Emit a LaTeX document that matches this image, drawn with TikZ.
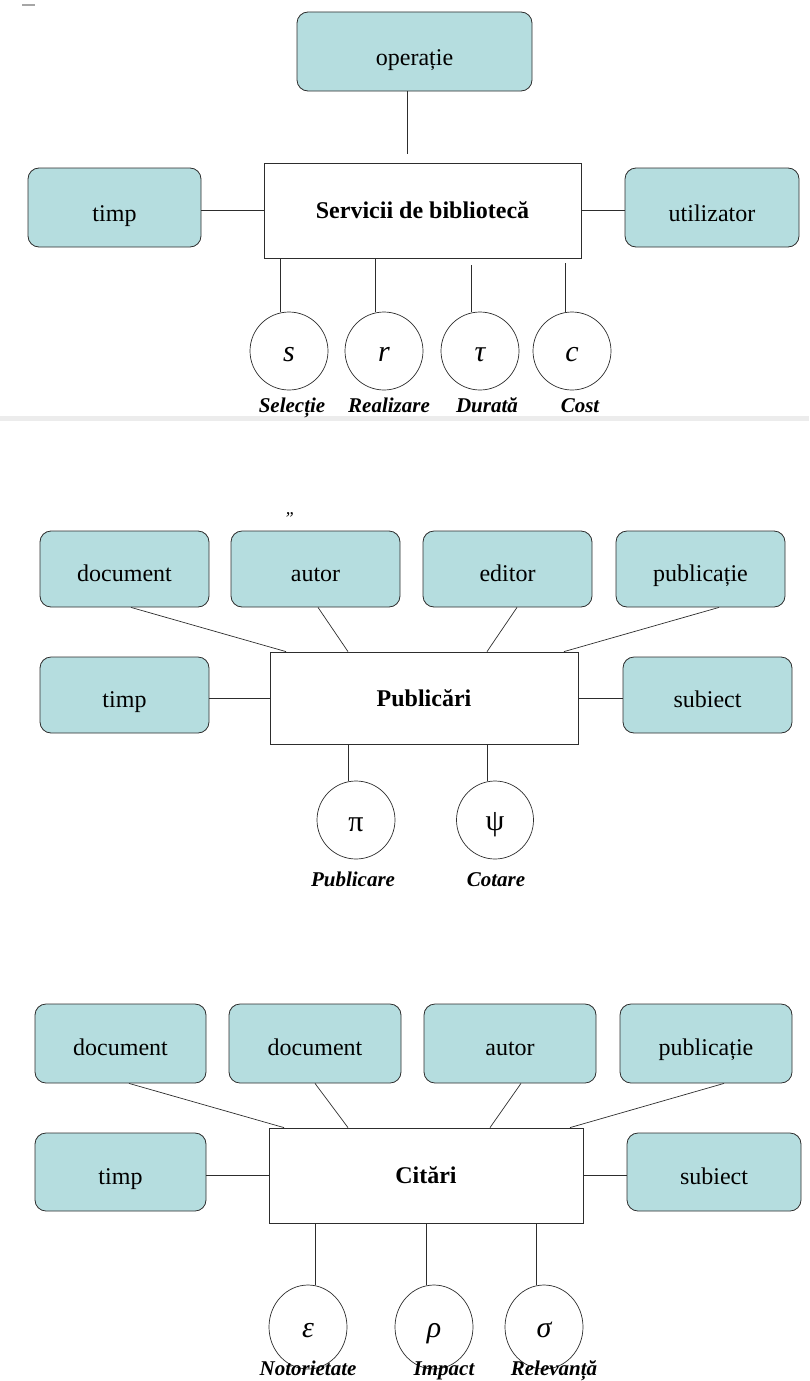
\documentclass[tikz,border=0pt]{standalone}
\usepackage{fontspec}
\setmainfont{Liberation Serif}
\usetikzlibrary{shapes.geometric}
\definecolor{boxfill}{RGB}{181,221,223}
\definecolor{edge}{RGB}{45,45,45}
\tikzset{
  rbox/.style={draw=edge, line width=0.8pt, fill=boxfill, rounded corners=11pt, inner sep=0pt, text height=30pt, text depth=6pt, font=\fontsize{24}{26}\selectfont},
  lowtext/.style={text height=34pt},
  mainbox/.style={draw=edge, line width=0.8pt, fill=white, inner sep=0pt, font=\fontsize{24}{26}\selectfont\bfseries},
  attr/.style={draw=edge, line width=0.7pt, fill=white, ellipse, inner sep=0pt, text height=28pt, text depth=8pt, font=\fontsize{30}{32}\selectfont},
  lbl/.style={inner sep=0pt, text height=15pt, text depth=5pt, font=\fontsize{21}{23}\selectfont\bfseries\itshape},
  conn/.style={draw=edge, line width=0.7pt}
}
\begin{document}
\begin{tikzpicture}[x=1pt,y=-1pt]
\useasboundingbox (0,0) rectangle (809,1381);
% artifacts
\fill[gray!15] (0,416) rectangle (809,421);
\draw[gray!70, line width=1.2pt] (22,5) -- (35,5);

% ---------- Section 1 ----------
\node[rbox, lowtext, minimum width=235pt, minimum height=79pt] (op) at (414.5,51.5) {operație};
\node[mainbox, minimum width=317pt, minimum height=95pt] (main1) at (422.5,210.5) {Servicii de bibliotecă};
\node[rbox, lowtext, minimum width=173pt, minimum height=79pt] (timp1) at (114.5,207.5) {timp};
\node[rbox, lowtext, minimum width=174pt, minimum height=79pt] (util1) at (712,207.5) {utilizator};
\draw[conn] (op.south -| 407,0) -- (407,154);
\draw[conn] (timp1.east |- main1) -- (main1.west);
\draw[conn] (main1.east) -- (util1.west |- main1);

\node[attr, minimum width=78pt, minimum height=78pt] (cs) at (289,351) {\itshape s};
\node[attr, minimum width=78pt, minimum height=78pt] (cr) at (384,351) {\itshape r};
\node[attr, minimum width=78pt, minimum height=78pt] (ct) at (480,351) {\itshape τ};
\node[attr, minimum width=78pt, minimum height=78pt] (cc) at (572,351) {\itshape c};
\draw[conn] (main1.south -| 280,0) -- (cs.north -| 280,0);
\draw[conn] (main1.south -| 375,0) -- (cr.north -| 375,0);
\draw[conn] (471,265) -- (ct.north -| 471,0);
\draw[conn] (565,263) -- (cc.north -| 565,0);
\node[lbl] (ls) at (292,407) {Selecție};
\node[lbl] (lr) at (389,407) {Realizare};
\node[lbl] (lt) at (487,407) {Durată};
\node[lbl] (lc) at (580,407) {Cost};

% ---------- Section 2 ----------
\node[inner sep=0pt, font=\fontsize{18}{18}\selectfont\itshape] (stray) at (289,519) {”};
\node[rbox, minimum width=169pt, minimum height=76pt] (doc2) at (124.5,569) {document};
\node[rbox, minimum width=169pt, minimum height=76pt] (aut2) at (315.5,569) {autor};
\node[rbox, minimum width=169pt, minimum height=76pt] (edi2) at (507.5,569) {editor};
\node[rbox, minimum width=169pt, minimum height=76pt] (pub2) at (700.5,569) {publicație};
\node[rbox, minimum width=169pt, minimum height=76pt] (timp2) at (124.5,695) {timp};
\node[rbox, minimum width=169pt, minimum height=76pt] (subj2) at (707.5,695) {subiect};
\node[mainbox, minimum width=308pt, minimum height=92pt] (main2) at (424,698) {Publicări};
\draw[conn] (timp2.east |- main2) -- (main2.west);
\draw[conn] (main2.east) -- (subj2.west |- main2);
\draw[conn] (doc2.south -| 131,0) -- (main2.north -| 286,0);
\draw[conn] (aut2.south -| 318,0) -- (main2.north -| 348,0);
\draw[conn] (edi2.south -| 517,0) -- (main2.north -| 487,0);
\draw[conn] (pub2.south -| 719,0) -- (main2.north -| 564,0);
\node[attr, text height=30pt, minimum width=78pt, minimum height=78pt] (cpi) at (356,820) {π};
\node[attr, minimum width=77pt, minimum height=78pt] (cpsi) at (495,820) {ψ};
\draw[conn] (main2.south -| 348,0) -- (cpi.north -| 348,0);
\draw[conn] (main2.south -| 487,0) -- (cpsi.north -| 487,0);
\node[lbl] (lpi) at (353,881) {Publicare};
\node[lbl] (lpsi) at (496,881) {Cotare};

% ---------- Section 3 ----------
\node[rbox, minimum width=171pt, minimum height=79pt] (doc3a) at (120.5,1043.5) {document};
\node[rbox, minimum width=172pt, minimum height=79pt] (doc3b) at (315,1043.5) {document};
\node[rbox, minimum width=172pt, minimum height=79pt] (aut3) at (510,1043.5) {autor};
\node[rbox, minimum width=172pt, minimum height=79pt] (pub3) at (706,1043.5) {publicație};
\node[rbox, minimum width=171pt, minimum height=78pt] (timp3) at (120.5,1172) {timp};
\node[rbox, minimum width=174pt, minimum height=78pt] (subj3) at (714,1172) {subiect};
\node[mainbox, minimum width=314pt, minimum height=95pt] (main3) at (426,1175.5) {Citări};
\draw[conn] (timp3.east |- main3) -- (main3.west);
\draw[conn] (main3.east) -- (subj3.west |- main3);
\draw[conn] (doc3a.south -| 129,0) -- (main3.north -| 284,0);
\draw[conn] (doc3b.south -| 315,0) -- (main3.north -| 348,0);
\draw[conn] (aut3.south -| 521,0) -- (main3.north -| 490,0);
\draw[conn] (pub3.south -| 724,0) -- (main3.north -| 570,0);
\node[attr, minimum width=78pt, minimum height=84pt] (ceps) at (308,1327) {\itshape ε};
\node[attr, minimum width=78pt, minimum height=84pt] (crho) at (434,1327) {\itshape ρ};
\node[attr, minimum width=78pt, minimum height=84pt] (csig) at (544,1327) {\itshape σ};
\draw[conn] (main3.south -| 315,0) -- (ceps.north -| 315,0);
\draw[conn] (main3.south -| 426,0) -- (crho.north -| 426,0);
\draw[conn] (main3.south -| 536,0) -- (csig.north -| 536,0);
\node[lbl] (leps) at (308,1370) {Notorietate};
\node[lbl] (lrho) at (444,1370) {Impact};
\node[lbl] (lsig) at (554,1370) {Relevanță};
\end{tikzpicture}
\end{document}
